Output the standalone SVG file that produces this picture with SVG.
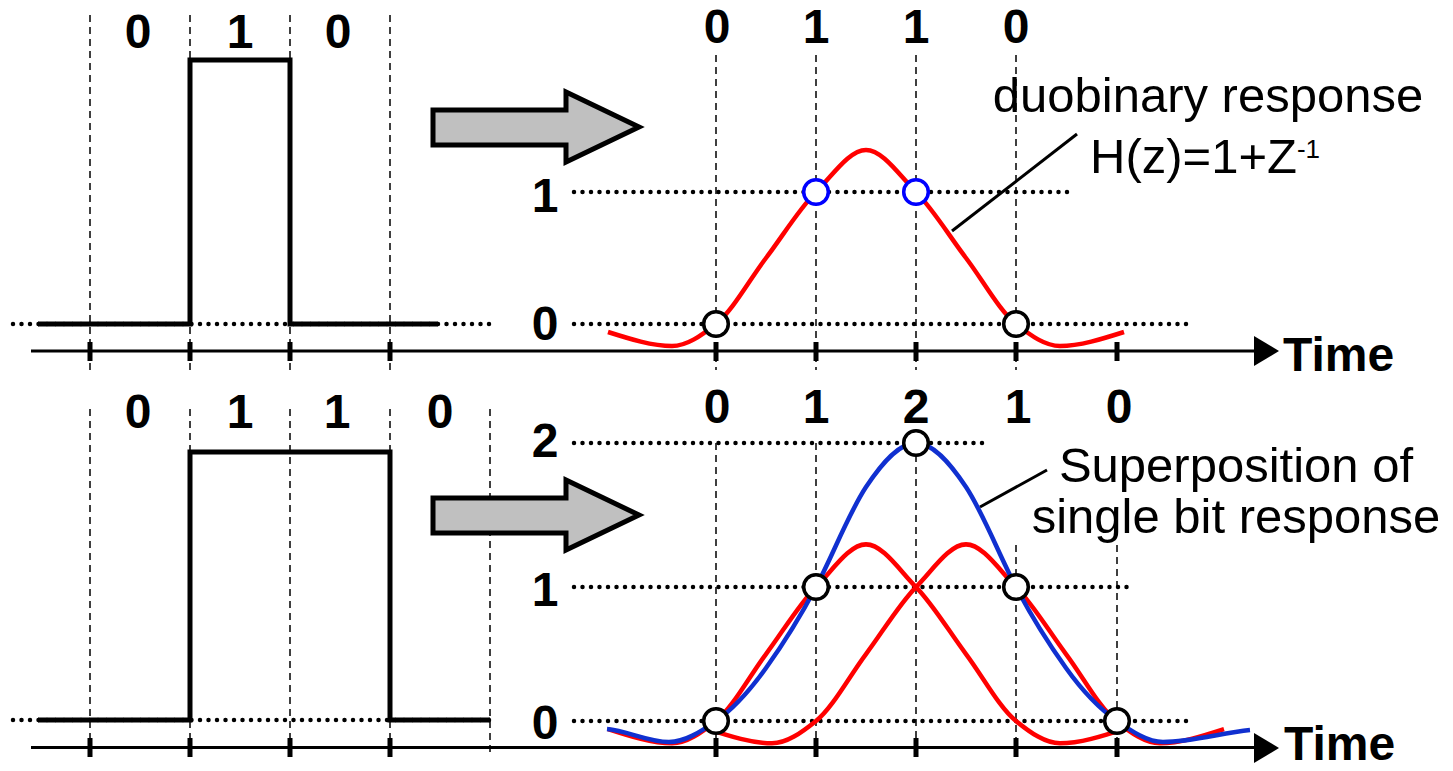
<svg xmlns="http://www.w3.org/2000/svg" xmlns:xlink="http://www.w3.org/1999/xlink" width="1453" height="771" viewBox="0 0 1453 771">
<style>
.dash{stroke:#000;stroke-width:1.5;stroke-dasharray:7 5;fill:none}
.dot{stroke:#000;stroke-width:4.5;stroke-dasharray:0 8.5;stroke-linecap:round;fill:none}
.axis{stroke:#000;stroke-width:3;fill:none}
.tick{stroke:#000;stroke-width:5;fill:none}
.pulse{stroke:#000;stroke-width:5;fill:none;stroke-linejoin:miter}
.red{stroke:#ff0000;stroke-width:4.5;fill:none}
.blue{stroke:#1030d0;stroke-width:4.5;fill:none}
.big{stroke:#000;stroke-width:5;fill:#c0c0c0;stroke-linejoin:miter}
.cb{fill:#fff;stroke:#000;stroke-width:3.5}
.cbl{fill:#fff;stroke:#0000ff;stroke-width:3.5}
.lab{font-family:"Liberation Sans",Arial,sans-serif;font-weight:bold;font-size:48px;text-anchor:middle;fill:#000}
.time{font-family:"Liberation Sans",Arial,sans-serif;font-weight:bold;font-size:48px;fill:#000}
.note{font-family:"Liberation Sans",Arial,sans-serif;font-size:49px;fill:#000}
.call{stroke:#000;stroke-width:3;fill:none}
</style>
<defs>
<path id="duo" d="M-258,8 C-236,15 -214,22 -194,22 C-179.3,22 -164.7,11.7 -150,0 C-133.3,-13.3 -116.7,-44 -100,-66 C-83.3,-88 -66.7,-115.3 -50,-132 C-33.3,-148.7 -16.7,-174 0,-174 C16.7,-174 33.3,-148.7 50,-132 C66.7,-115.3 83.3,-88 100,-66 C116.7,-44 133.3,-13.3 150,0 C164.7,11.7 179.3,22 194,22 C214,22 236,15 258,8"/>
</defs>

<g id="grid-top">
<line class="dash" x1="90" y1="15" x2="90" y2="370"/>
<line class="dash" x1="190" y1="15" x2="190" y2="370"/>
<line class="dash" x1="290" y1="15" x2="290" y2="370"/>
<line class="dash" x1="390" y1="15" x2="390" y2="370"/>
<line class="dash" x1="716" y1="55" x2="716" y2="370"/>
<line class="dash" x1="816" y1="55" x2="816" y2="370"/>
<line class="dash" x1="916" y1="55" x2="916" y2="370"/>
<line class="dash" x1="1016" y1="55" x2="1016" y2="370"/>
<line class="dot" x1="13" y1="324" x2="490" y2="324"/>
<line class="dot" x1="574" y1="192" x2="1068" y2="192"/>
<line class="dot" x1="574" y1="324" x2="1190" y2="324"/>
</g>

<g id="grid-bottom">
<line class="dash" x1="90" y1="409" x2="90" y2="757"/>
<line class="dash" x1="190" y1="409" x2="190" y2="757"/>
<line class="dash" x1="290" y1="409" x2="290" y2="757"/>
<line class="dash" x1="390" y1="409" x2="390" y2="757"/>
<line class="dash" x1="490" y1="409" x2="490" y2="757"/>
<line class="dash" x1="716" y1="443" x2="716" y2="757"/>
<line class="dash" x1="816" y1="443" x2="816" y2="757"/>
<line class="dash" x1="916" y1="443" x2="916" y2="757"/>
<line class="dash" x1="1016" y1="545" x2="1016" y2="757"/>
<line class="dash" x1="1117" y1="545" x2="1117" y2="757"/>
<line class="dot" x1="13" y1="720" x2="490" y2="720"/>
<line class="dot" x1="574" y1="443" x2="984" y2="443"/>
<line class="dot" x1="574" y1="587" x2="1134" y2="587"/>
<line class="dot" x1="574" y1="721" x2="1190" y2="721"/>
</g>

<g id="axis-top">
<line class="axis" x1="31" y1="351" x2="1258" y2="351"/>
<polygon points="1254,336 1279,351 1254,366" fill="#000"/>
<path class="tick" d="M90,342V361M190,342V361M290,342V361M390,342V361M716,342V361M816,342V361M916,342V361M1016,342V361M1117,342V361"/>
<text class="time" x="1283" y="371">Time</text>
</g>

<g id="axis-bottom">
<line class="axis" x1="31" y1="747.5" x2="1258" y2="747.5"/>
<polygon points="1254,733 1279,748 1254,763" fill="#000"/>
<path class="tick" d="M90,738V757M190,738V757M290,738V757M390,738V757M716,738V757M816,738V757M916,738V757M1016,738V757M1117,738V757"/>
<text class="time" x="1284" y="760">Time</text>
</g>

<g id="pulse-top">
<path class="pulse" d="M38,324H190V60H290V324H438"/>
<text class="lab" x="138" y="48">0</text>
<text class="lab" x="240" y="48">1</text>
<text class="lab" x="338" y="48">0</text>
</g>

<g id="pulse-bottom">
<path class="pulse" d="M38,720H190V452H390V720H490"/>
<text class="lab" x="138" y="428">0</text>
<text class="lab" x="240" y="428">1</text>
<text class="lab" x="337" y="428">1</text>
<text class="lab" x="440" y="428">0</text>
</g>

<g id="arrow-top">
<polygon class="big" points="433,110 566,110 566,92 639,127 566,162 566,145 433,145"/>
</g>
<g id="arrow-bottom">
<polygon class="big" points="433,498 566,498 566,480 639,515 566,550 566,533 433,533"/>
</g>

<g id="response-top">
<use xlink:href="#duo" href="#duo" class="red" transform="translate(866,324)"/>
<circle class="cb" cx="716" cy="324" r="12.3"/>
<circle class="cb" cx="1016" cy="324" r="12.3"/>
<circle class="cbl" cx="816" cy="192" r="12.3"/>
<circle class="cbl" cx="916" cy="192" r="12.3"/>
<text class="lab" x="717" y="43">0</text>
<text class="lab" x="816" y="43">1</text>
<text class="lab" x="916" y="43">1</text>
<text class="lab" x="1016" y="43">0</text>
<text class="lab" x="545" y="212">1</text>
<text class="lab" x="545" y="340">0</text>
</g>

<g id="label-duobinary">
<line class="call" x1="952" y1="231" x2="1077" y2="134"/>
<text class="note" x="1208" y="112" text-anchor="middle">duobinary response</text>
<text class="note" x="1090" y="173">H(z)=1+Z<tspan font-size="26" dy="-15">-1</tspan></text>
</g>

<g id="response-bottom">
<use xlink:href="#duo" href="#duo" class="red" transform="translate(866,721) scale(1,1.015)"/>
<use xlink:href="#duo" href="#duo" class="red" transform="translate(966,721) scale(1,1.015)"/>
<path class="blue" d="M607,729 C627.7,731 648.3,742 669,742 C684.7,742 700.3,732 716,721 C732.7,709.3 749.3,691.3 766,668 C782.7,644.7 799.3,618.7 816,587 C832.7,555.3 849.3,512 866,487 C882.7,462 899.3,443 916,443 C932.7,443 949.3,462 966,487 C982.7,512 999.3,555.3 1016,587 C1032.7,618.7 1049.3,644.7 1066,668 C1083,691.8 1100,709.1 1117,721 C1132.3,731.7 1147.7,742 1163,742 C1192,742 1221,733 1250,730"/>
<circle class="cb" cx="716" cy="721" r="12.3"/>
<circle class="cb" cx="816" cy="587" r="12.3"/>
<circle class="cb" cx="916" cy="443" r="12.3"/>
<circle class="cb" cx="1016" cy="587" r="12.3"/>
<circle class="cb" cx="1117" cy="721" r="12.3"/>
<text class="lab" x="717" y="423">0</text>
<text class="lab" x="816" y="423">1</text>
<text class="lab" x="916" y="423">2</text>
<text class="lab" x="1018" y="423">1</text>
<text class="lab" x="1119" y="423">0</text>
<text class="lab" x="545" y="457">2</text>
<text class="lab" x="545" y="606">1</text>
<text class="lab" x="545" y="739">0</text>
</g>

<g id="label-superposition">
<line class="call" x1="980" y1="507" x2="1047" y2="470"/>
<text class="note" x="1236" y="482" text-anchor="middle">Superposition of</text>
<text class="note" x="1236" y="533" text-anchor="middle">single bit response</text>
</g>
</svg>
